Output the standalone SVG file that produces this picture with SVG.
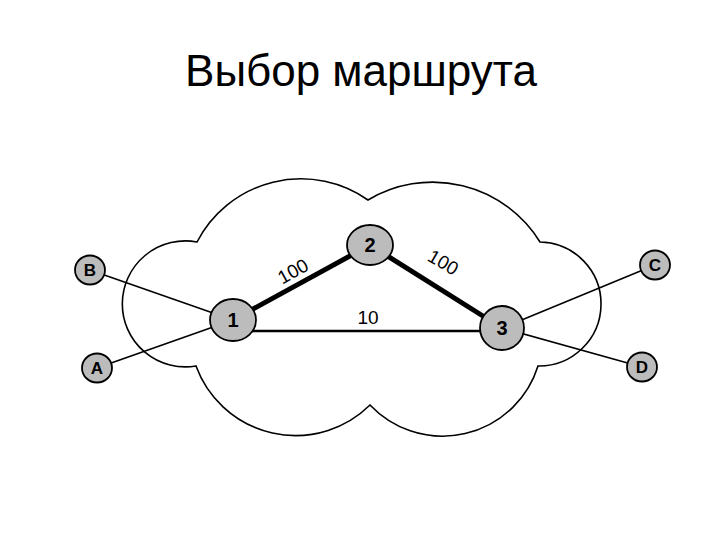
<svg xmlns="http://www.w3.org/2000/svg" width="720" height="540" viewBox="0 0 720 540">
<style>
.title{font-family:"Liberation Sans",Arial,sans-serif;font-size:44px;fill:#000}
.cloud{fill:none;stroke:#000;stroke-width:1.6}
.node ellipse{fill:#bcbcbc;stroke:#000;stroke-width:1.8}
.node text{font-family:"Liberation Sans",Arial,sans-serif;font-weight:bold;fill:#000;text-anchor:middle}
.big text{font-size:20px}
.small text{font-size:17px}
.thin{stroke:#000;stroke-width:1.6;fill:none}
.mid{stroke:#000;stroke-width:2.6;fill:none}
.thick{stroke:#000;stroke-width:5;fill:none}
.lbl{font-family:"Liberation Sans",Arial,sans-serif;font-size:19px;fill:#000;text-anchor:middle}
</style>
<rect width="720" height="540" fill="#fff"/>
<text class="title" x="361" y="86" text-anchor="middle">Выбор маршрута</text>
<path id="cloud" class="cloud" d="M196,366 A63,63 0 1 1 197,242 A117,117 0 0 1 368,200 A126,126 0 0 1 540,242 A62,62 0 1 1 538,366 A100,100 0 0 1 370,405 A106,106 0 0 1 196,366 Z"/>
<g id="connectors">
<line class="thin" x1="90" y1="270" x2="233" y2="320"/>
<line class="thin" x1="97" y1="368" x2="233" y2="320"/>
<line class="thin" x1="655" y1="265" x2="502" y2="328"/>
<line class="thin" x1="642" y1="367" x2="502" y2="328"/>
<line class="mid" x1="250" y1="331" x2="485" y2="331"/>
<line class="thick" x1="233" y1="320" x2="370" y2="245"/>
<line class="thick" x1="370" y1="245" x2="502" y2="328"/>
<text class="lbl" transform="translate(296,277) rotate(-29)">100</text>
<text class="lbl" transform="translate(440,268) rotate(30)">100</text>
<text class="lbl" x="368" y="324">10</text>
</g>
<g id="node1" class="node big"><ellipse cx="233" cy="320" rx="23" ry="21"/><text x="233" y="327">1</text></g>
<g id="node2" class="node big"><ellipse cx="370" cy="245" rx="23" ry="20"/><text x="370" y="252">2</text></g>
<g id="node3" class="node big"><ellipse cx="502" cy="328" rx="22" ry="22"/><text x="502" y="335">3</text></g>
<g id="nodeB" class="node small"><ellipse cx="90" cy="270" rx="15" ry="14.5"/><text x="90" y="276">B</text></g>
<g id="nodeA" class="node small"><ellipse cx="97" cy="368" rx="15" ry="14.5"/><text x="97" y="374">A</text></g>
<g id="nodeC" class="node small"><ellipse cx="655" cy="265" rx="15" ry="14.5"/><text x="655" y="271">C</text></g>
<g id="nodeD" class="node small"><ellipse cx="642" cy="367" rx="15" ry="14.5"/><text x="642" y="373">D</text></g>
</svg>
